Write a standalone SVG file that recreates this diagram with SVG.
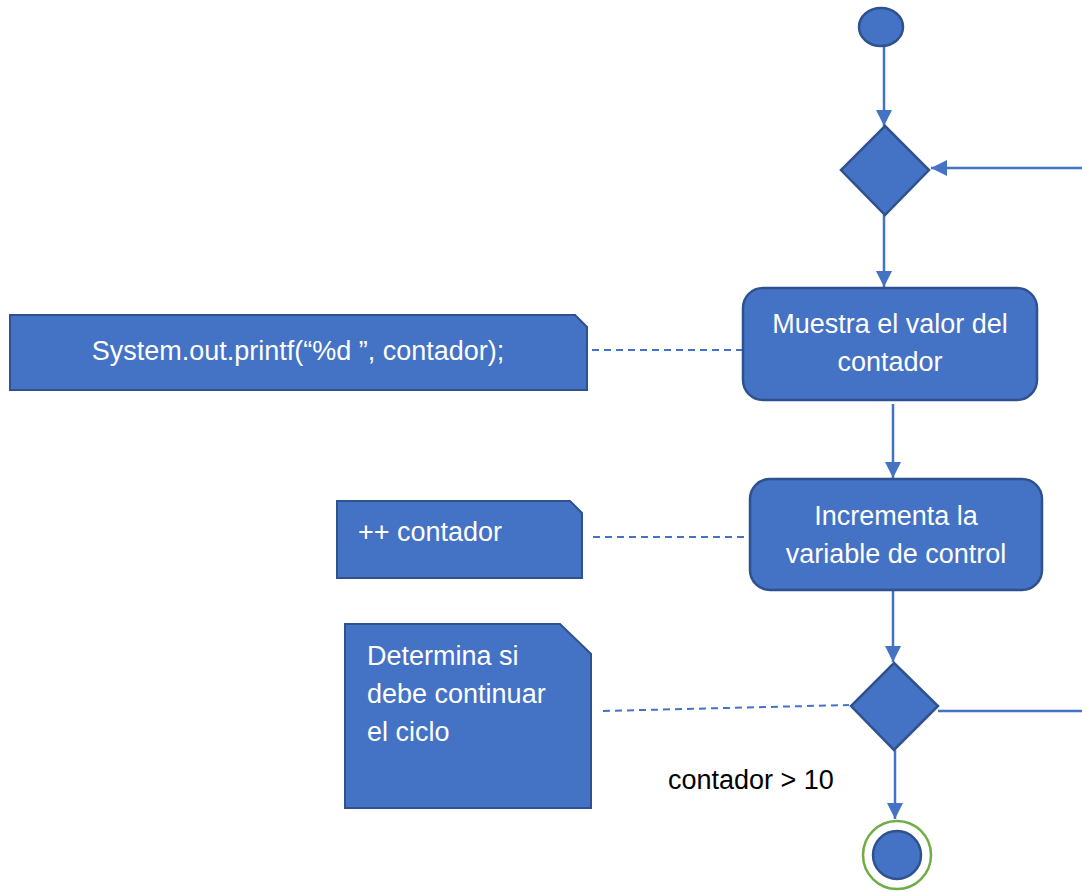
<svg xmlns="http://www.w3.org/2000/svg" width="1082" height="892" viewBox="0 0 1082 892">
  <style>
    .shape { fill: #4472C4; stroke: #2F528F; stroke-width: 2.5; }
    .note { fill: #4472C4; stroke: #2F528F; stroke-width: 2; }
    .flow { fill: none; stroke: #4472C4; stroke-width: 2.5; }
    .link { fill: none; stroke: #4472C4; stroke-width: 2; stroke-dasharray: 7 5; }
    .label { font-family: "Liberation Sans", Arial, sans-serif; font-size: 27px; fill: #FFFFFF; }
    .guard { font-family: "Liberation Sans", Arial, sans-serif; font-size: 27px; fill: #000000; }
  </style>
  <defs>
    <marker id="arrow" markerUnits="userSpaceOnUse" markerWidth="16" markerHeight="16" refX="16" refY="8" orient="auto">
      <path d="M0,0 L16,8 L0,16 Z" fill="#4472C4"/>
    </marker>
  </defs>
  <rect width="1082" height="892" fill="#FFFFFF"/>

  <g id="connectors">
    <line class="flow" x1="884" y1="46" x2="884" y2="126" marker-end="url(#arrow)"/>
    <line class="flow" x1="1082" y1="168" x2="931" y2="168" marker-end="url(#arrow)"/>
    <line class="flow" x1="884" y1="215" x2="884" y2="287" marker-end="url(#arrow)"/>
    <line class="flow" x1="893" y1="404" x2="893" y2="478" marker-end="url(#arrow)"/>
    <line class="flow" x1="893" y1="590" x2="893" y2="662" marker-end="url(#arrow)"/>
    <line class="flow" x1="938" y1="711" x2="1082" y2="711"/>
    <line class="flow" x1="895" y1="750" x2="895" y2="819" marker-end="url(#arrow)"/>
    <line class="link" x1="592" y1="350" x2="742" y2="350"/>
    <line class="link" x1="593" y1="537" x2="748" y2="537"/>
    <line class="link" x1="603" y1="711" x2="849" y2="705"/>
  </g>

  <g id="start">
    <ellipse class="shape" cx="881" cy="27" rx="22" ry="19"/>
  </g>

  <g id="merge">
    <polygon class="shape" points="885,126 929,170 885,215 841,170"/>
  </g>

  <g id="show-value">
    <rect class="shape" x="743" y="288" width="294" height="112" rx="20" ry="20"/>
    <text class="label" x="890" y="333" text-anchor="middle">Muestra el valor del</text>
    <text class="label" x="890" y="371" text-anchor="middle">contador</text>
  </g>

  <g id="note-printf">
    <path class="note" d="M10,315 L575,315 L587,327 L587,390 L10,390 Z"/>
    <text class="label" x="298" y="360" text-anchor="middle">System.out.printf(“%d ”, contador);</text>
  </g>

  <g id="increment">
    <rect class="shape" x="750" y="479" width="292" height="111" rx="20" ry="20"/>
    <text class="label" x="896" y="525" text-anchor="middle">Incrementa la</text>
    <text class="label" x="896" y="563" text-anchor="middle">variable de control</text>
  </g>

  <g id="note-increment">
    <path class="note" d="M337,501 L570,501 L582,513 L582,578 L337,578 Z"/>
    <text class="label" x="358" y="541">++ contador</text>
  </g>

  <g id="decision">
    <polygon class="shape" points="894,663 938,706 894,750 851,706"/>
  </g>

  <g id="note-decision">
    <path class="note" d="M345,624 L560,624 L591,654 L591,808 L345,808 Z"/>
    <text class="label" x="367" y="665">Determina si</text>
    <text class="label" x="367" y="703">debe continuar</text>
    <text class="label" x="367" y="741">el ciclo</text>
  </g>

  <g id="guard">
    <text class="guard" x="668" y="789">contador &gt; 10</text>
  </g>

  <g id="end">
    <circle cx="897" cy="855" r="34" fill="none" stroke="#70AD47" stroke-width="2.5"/>
    <circle class="shape" cx="897" cy="855" r="24"/>
  </g>
</svg>
